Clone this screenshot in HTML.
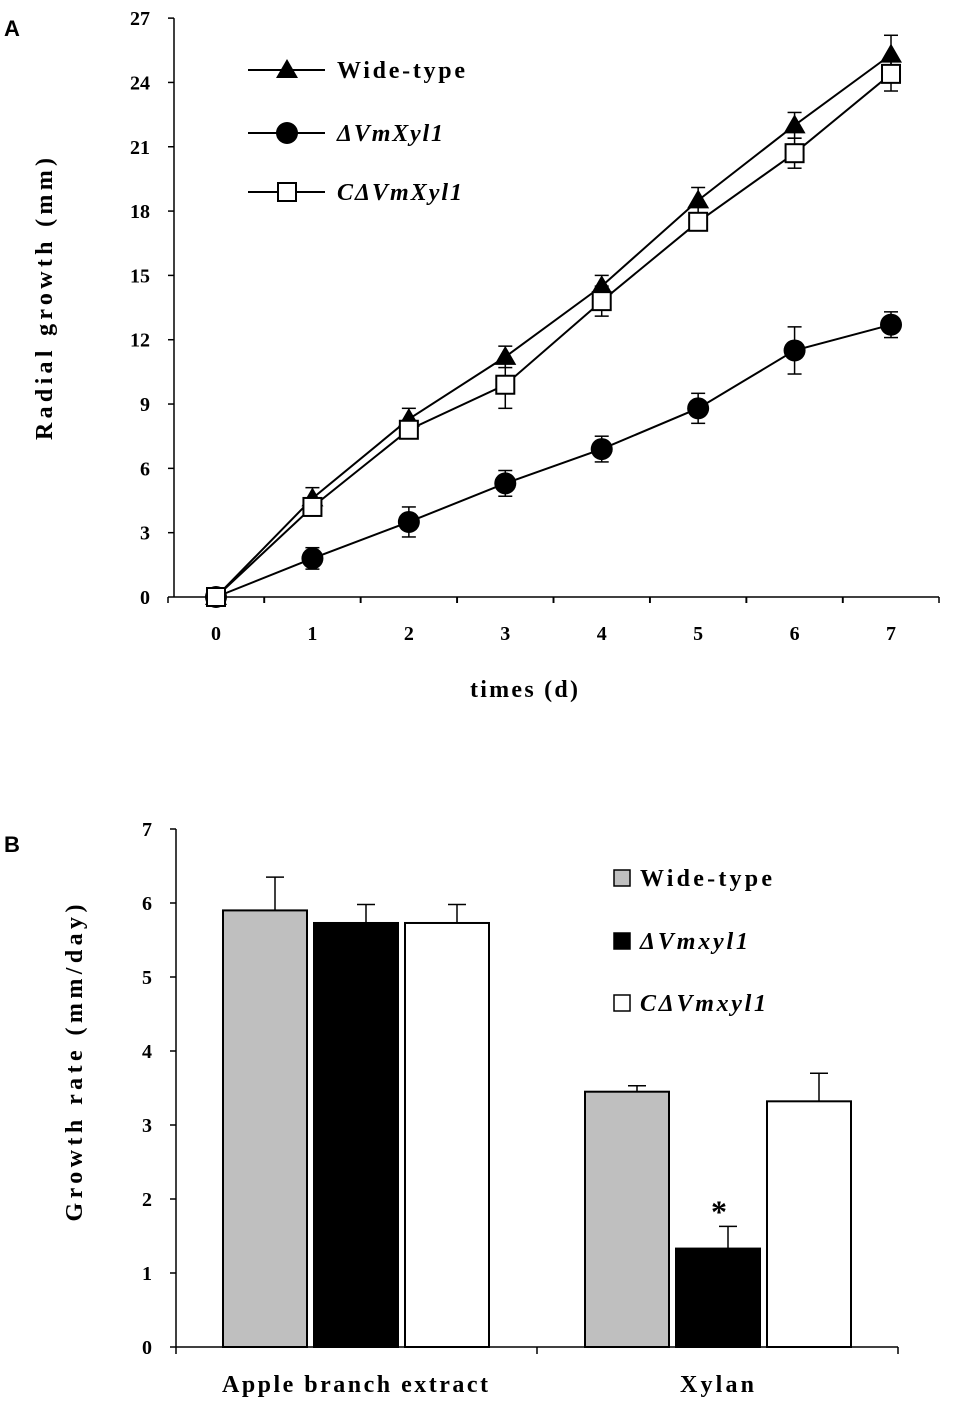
<!DOCTYPE html>
<html><head><meta charset="utf-8"><style>
html,body{margin:0;padding:0;background:#fff;}
svg text{font-family:"Liberation Serif",serif;font-weight:bold;}
</style></head><body>
<svg id="s" width="953" height="1408" xmlns="http://www.w3.org/2000/svg">
<text x="4" y="36" style="font-family:'Liberation Sans',sans-serif;font-size:22px">A</text>
<text x="4" y="852" style="font-family:'Liberation Sans',sans-serif;font-size:22px">B</text>
<g id="ga"></g>
<g id="gb"></g>
</svg>
<script>
const days=[0,1,2,3,4,5,6,7];
const wtVals=[0,4.6,8.3,11.2,14.5,18.5,22.0,25.3];
const wtErr=[0.3,0.5,0.5,0.5,0.5,0.6,0.6,0.9];
const mutVals=[0,1.8,3.5,5.3,6.9,8.8,11.5,12.7];
const mutErr=[0.3,0.5,0.7,0.6,0.6,0.7,1.1,0.6];
const compVals=[0,4.2,7.8,9.9,13.8,17.5,20.7,24.4];
const compErr=[0.3,0.4,0.3,1.1,0.7,0.3,0.7,0.8];
const yTicksA=[0,3,6,9,12,15,18,21,24,27];
const groups=["Apple branch extract","Xylan"];
const barWt=[5.9,3.45];
const barWtErr=[0.45,0.08];
const barMut=[5.73,1.33];
const barMutErr=[0.25,0.3];
const barComp=[5.73,3.32];
const barCompErr=[0.25,0.38];
const yTicksB=[0,1,2,3,4,5,6,7];
const NS="http://www.w3.org/2000/svg";
const FS=24;
function mk(p,t,a,txt){const e=document.createElementNS(NS,t);for(const k in a)e.setAttribute(k,a[k]);if(txt!==undefined)e.textContent=txt;p.appendChild(e);return e;}
const ga=document.getElementById('ga');
const xA=d=>216+d*96.43, yA=v=>597-v*21.44;
mk(ga,'line',{x1:174,y1:yA(0),x2:174,y2:yA(27),stroke:'#000','stroke-width':1.5});
mk(ga,'line',{x1:174,y1:597,x2:939,y2:597,stroke:'#000','stroke-width':1.5});
yTicksA.forEach(v=>{mk(ga,'line',{x1:168,y1:yA(v),x2:174,y2:yA(v),stroke:'#000','stroke-width':1.5});
const t=mk(ga,'text',{x:150,y:yA(v)+7,'text-anchor':'end','font-size':20},v);

});
days.forEach((d,i)=>{mk(ga,'line',{x1:xA(d)+48,y1:597,x2:xA(d)+48,y2:603,stroke:'#000','stroke-width':1.5});
mk(ga,'line',{x1:xA(d)-48,y1:597,x2:xA(d)-48,y2:603,stroke:'#000','stroke-width':1.5});
const t=mk(ga,'text',{x:xA(d),y:640,'text-anchor':'middle','font-size':20},d);

});
const xt=mk(ga,'text',{x:524,y:697,'text-anchor':'middle','font-size':FS,textLength:108,lengthAdjust:'spacing'},'times (d)');

const yt=mk(ga,'text',{x:0,y:0,'text-anchor':'middle','font-size':FS,textLength:282,lengthAdjust:'spacing',transform:'translate(52,299) rotate(-90)'},'Radial growth (mm)');

function marker(g,type,x,y){
 if(type==='tri')return mk(g,'polygon',{points:`${x},${y-11} ${x-11},${y+8} ${x+11},${y+8}`,fill:'#000'});
 if(type==='circ')return mk(g,'circle',{cx:x,cy:y,r:11,fill:'#000'});
 return mk(g,'rect',{x:x-9,y:y-9,width:18,height:18,fill:'#fff',stroke:'#000','stroke-width':2});}
function series(vals,err,type,name){
 const g=mk(ga,'g',{});
 
 
 mk(g,'polyline',{points:vals.map((v,i)=>xA(days[i])+','+yA(v)).join(' '),fill:'none',stroke:'#000','stroke-width':2});
 vals.forEach((v,i)=>{const x=xA(days[i]);
  mk(g,'line',{x1:x,y1:yA(v-err[i]),x2:x,y2:yA(v+err[i]),stroke:'#000','stroke-width':1.5});
  mk(g,'line',{x1:x-7,y1:yA(v+err[i]),x2:x+7,y2:yA(v+err[i]),stroke:'#000','stroke-width':1.5});
  mk(g,'line',{x1:x-7,y1:yA(v-err[i]),x2:x+7,y2:yA(v-err[i]),stroke:'#000','stroke-width':1.5});
  const m=marker(g,type,x,yA(v));
  
  });}
series(wtVals,wtErr,'tri','wild-type-series');
series(mutVals,mutErr,'circ','mutant-series');
series(compVals,compErr,'sq','complemented-series');
[['tri','Wide-type',false,70,128],['circ','\u0394VmXyl1',true,133,106],['sq','C\u0394VmXyl1',true,192,125]].forEach(l=>{
 const g=mk(ga,'g',{});
 
 
 mk(g,'line',{x1:248,y1:l[3],x2:325,y2:l[3],stroke:'#000','stroke-width':2});
 marker(g,l[0],287,l[3]);
 mk(g,'text',{x:337,y:l[3]+8,'font-size':FS,textLength:l[4],lengthAdjust:'spacing','font-style':l[2]?'italic':'normal'},l[1]);});
const gb=document.getElementById('gb');
const yB=v=>1347-v*74;
mk(gb,'line',{x1:176,y1:yB(0),x2:176,y2:yB(7),stroke:'#000','stroke-width':1.5});
mk(gb,'line',{x1:176,y1:1347,x2:898,y2:1347,stroke:'#000','stroke-width':1.5});
[176,537,898].forEach(x=>mk(gb,'line',{x1:x,y1:1347,x2:x,y2:1354,stroke:'#000','stroke-width':1.5}));
yTicksB.forEach(v=>{mk(gb,'line',{x1:170,y1:yB(v),x2:176,y2:yB(v),stroke:'#000','stroke-width':1.5});
const t=mk(gb,'text',{x:152,y:yB(v)+7,'text-anchor':'end','font-size':20},v);
});
const gc=[356,718];
const catW=[266,74];
const barSets=[[barWt,barWtErr,'#bfbfbf','wild-type-bar'],[barMut,barMutErr,'#000','mutant-bar'],[barComp,barCompErr,'#fff','complemented-bar']];
groups.forEach((gname,gi)=>{
 const t=mk(gb,'text',{x:gc[gi]-1,y:1392,'text-anchor':'middle','font-size':FS,textLength:catW[gi],lengthAdjust:'spacing'},gname);
 
 barSets.forEach((s,si)=>{const x=gc[gi]-133+si*91,v=s[0][gi],e=s[1][gi];
  const ex=x+Math.round(84*0.62);
  mk(gb,'line',{x1:ex,y1:yB(v),x2:ex,y2:yB(v+e),stroke:'#000','stroke-width':1.5});
  mk(gb,'line',{x1:ex-9,y1:yB(v+e),x2:ex+9,y2:yB(v+e),stroke:'#000','stroke-width':1.5});
  const r=mk(gb,'rect',{x:x,y:yB(v),width:84,height:v*74,fill:s[2],stroke:'#000','stroke-width':2});
  });});
const star=mk(gb,'text',{x:gc[1]+1,y:yB(barMut[1]+barMutErr[1])-4,'text-anchor':'middle','font-size':32},'*');

const ytb=mk(gb,'text',{x:0,y:0,'text-anchor':'middle','font-size':FS,textLength:317,lengthAdjust:'spacing',transform:'translate(82,1063) rotate(-90)'},'Growth rate (mm/day)');

[['#bfbfbf','Wide-type',false,878,132],['#000','\u0394Vmxyl1',true,941,108],['#fff','C\u0394Vmxyl1',true,1003,126]].forEach(l=>{
 const g=mk(gb,'g',{});
 
 
 mk(g,'rect',{x:614,y:l[3]-8,width:16,height:16,fill:l[0],stroke:'#000','stroke-width':1.5});
 mk(g,'text',{x:640,y:l[3]+8,'font-size':FS,textLength:l[4],lengthAdjust:'spacing','font-style':l[2]?'italic':'normal'},l[1]);});
</script>
</body></html>
